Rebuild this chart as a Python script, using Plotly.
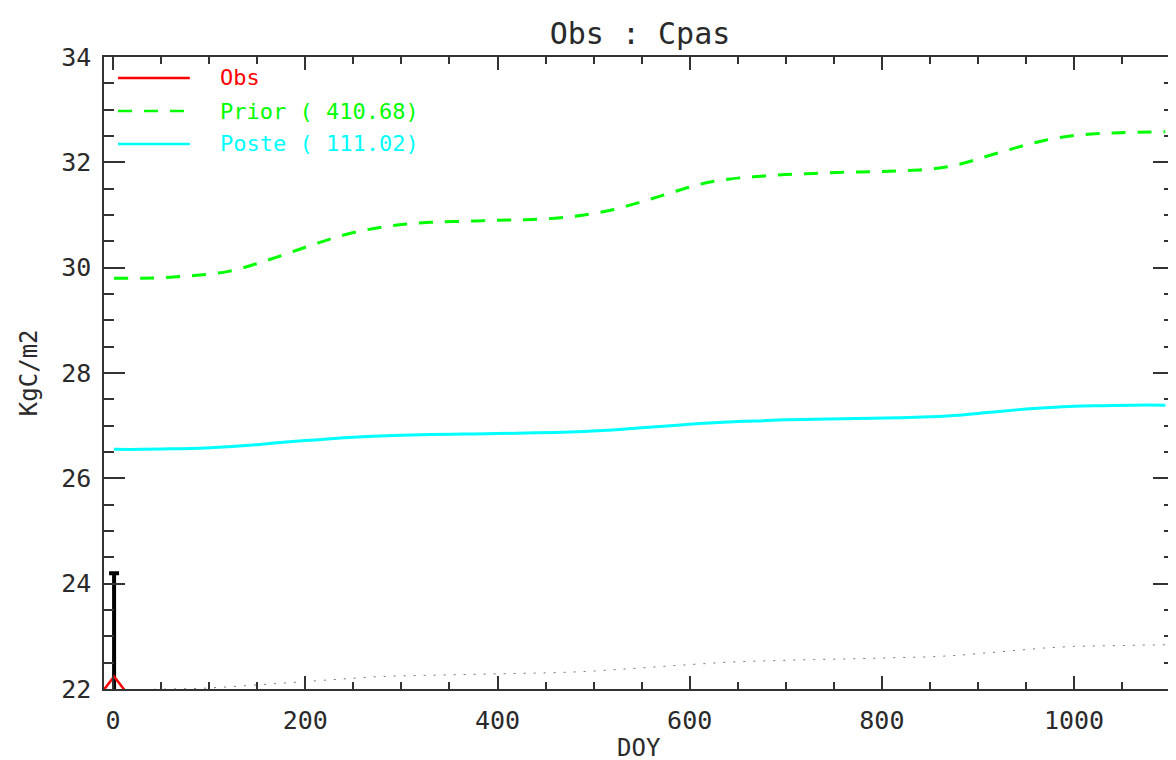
import plotly.graph_objects as go

# ---------------- data ----------------
days = [1, 30, 60, 90, 120, 150, 180, 210, 240, 270, 300, 330, 365, 400, 430, 460,
        490, 520, 550, 580, 610, 640, 670, 700, 730, 760, 790, 820, 850, 880, 910,
        940, 970, 1000, 1030, 1060, 1095]

prior = [29.80, 29.80, 29.82, 29.86, 29.93, 30.08, 30.26, 30.45, 30.62, 30.74, 30.82,
         30.86, 30.88, 30.90, 30.91, 30.94, 31.00, 31.10, 31.25, 31.42, 31.58, 31.68,
         31.73, 31.77, 31.79, 31.81, 31.82, 31.84, 31.87, 31.96, 32.12, 32.28, 32.42,
         32.51, 32.55, 32.57, 32.58]

poste = [26.55, 26.55, 26.56, 26.57, 26.60, 26.64, 26.69, 26.73, 26.77, 26.80, 26.82,
         26.83, 26.84, 26.85, 26.86, 26.87, 26.89, 26.92, 26.96, 27.00, 27.04, 27.07,
         27.09, 27.11, 27.12, 27.13, 27.14, 27.15, 27.17, 27.20, 27.25, 27.30, 27.34,
         27.37, 27.38, 27.39, 27.39]

lower = [21.98, 21.99, 22.00, 22.01, 22.04, 22.08, 22.12, 22.16, 22.20, 22.23, 22.25,
         22.26, 22.27, 22.28, 22.29, 22.31, 22.33, 22.36, 22.40, 22.44, 22.48, 22.51,
         22.53, 22.55, 22.56, 22.57, 22.58, 22.59, 22.61, 22.64, 22.69, 22.74, 22.78,
         22.81, 22.82, 22.83, 22.84]

obs_day = [1]
obs_val = [22.0]
obs_err = [2.2]

legend_labels = ["Obs", "Prior ( 410.68)", "Poste ( 111.02)"]
legend_colors = ["#ff0000", "#00ff00", "#00ffff"]
legend_dash = ["solid", "14px,12px", "solid"]

title_text = "Obs : Cpas"
x_title = "DOY"
y_title = "KgC/m2"

# ---------------- figure ----------------
FONT = "DejaVu Sans Mono"
TXT = "#2a2a2a"
W, H = 1176, 760
L, R, T, B = 96, 8, 49, 79
PW, PH = W - L - R, H - T - B

fig = go.Figure()

fig.add_trace(go.Scatter(x=days, y=lower, mode="lines",
                         line=dict(color="#777777", width=1, dash="2px,8px"),
                         showlegend=False))
fig.add_trace(go.Scatter(x=days, y=prior, mode="lines",
                         line=dict(color=legend_colors[1], width=3, dash="14px,12px", shape="spline"),
                         showlegend=False))
fig.add_trace(go.Scatter(x=days, y=poste, mode="lines",
                         line=dict(color=legend_colors[2], width=3, shape="spline"),
                         showlegend=False))
fig.add_trace(go.Scatter(x=obs_day, y=obs_val, mode="markers",
                         marker=dict(symbol="triangle-up-open", size=25, color=legend_colors[0],
                                     line=dict(color=legend_colors[0], width=2.5)),
                         error_y=dict(type="data", array=obs_err, symmetric=True,
                                      color="black", thickness=4, width=5),
                         showlegend=False))

axis_common = dict(showline=True, linecolor="#333333", linewidth=1.5, mirror="ticks",
                   ticks="inside", tickcolor="#333333", tickwidth=1.5,
                   showgrid=False, zeroline=False,
                   tickfont=dict(family=FONT, size=25, color=TXT))

fig.update_xaxes(range=[-9.5, 1104], tick0=0, dtick=200, ticklen=13,
                 ticklabelstandoff=8,
                 minor=dict(ticks="inside", ticklen=7, dtick=50, tickcolor="#333333", tickwidth=1.5),
                 **axis_common)
fig.update_yaxes(range=[22, 34], tick0=22, dtick=2, ticklen=21,
                 ticklabelstandoff=6,
                 minor=dict(ticks="inside", ticklen=10, dtick=0.5, tickcolor="#333333", tickwidth=1.5),
                 **axis_common)

def px_x(p):
    return (p - L) / PW

def px_y(p):
    return (H - B - p) / PH

shapes = []
annotations = []
leg_y = [70, 103, 136]
for lbl, col, dsh, yy in zip(legend_labels, legend_colors, legend_dash, leg_y):
    shapes.append(dict(type="line", xref="paper", yref="paper",
                       x0=px_x(110), x1=px_x(182), y0=px_y(yy), y1=px_y(yy),
                       line=dict(color=col, width=2.5, dash=dsh)))
    annotations.append(dict(text=lbl, xref="paper", yref="paper", x=px_x(210), y=px_y(yy),
                            xanchor="left", yanchor="middle", showarrow=False,
                            font=dict(family=FONT, size=22, color=col)))

annotations.append(dict(text=x_title, xref="paper", yref="paper", x=0.5, y=px_y(740),
                        xanchor="center", yanchor="middle", showarrow=False,
                        font=dict(family=FONT, size=24, color=TXT)))
annotations.append(dict(text=y_title, xref="paper", yref="paper", x=px_x(21), y=px_y(365),
                        xanchor="center", yanchor="middle", showarrow=False, textangle=-90,
                        font=dict(family=FONT, size=24, color=TXT)))

fig.update_layout(
    width=W, height=H,
    margin=dict(l=L, r=R, t=T, b=B),
    paper_bgcolor="white", plot_bgcolor="white",
    title=dict(text=title_text, x=(L + PW / 2) / W, xanchor="center",
               y=1 - 25 / H, yanchor="middle", xref="container", yref="container",
               font=dict(family=FONT, size=30, color=TXT)),
    shapes=shapes, annotations=annotations,
    showlegend=False,
)

fig.write_html("out.html")
